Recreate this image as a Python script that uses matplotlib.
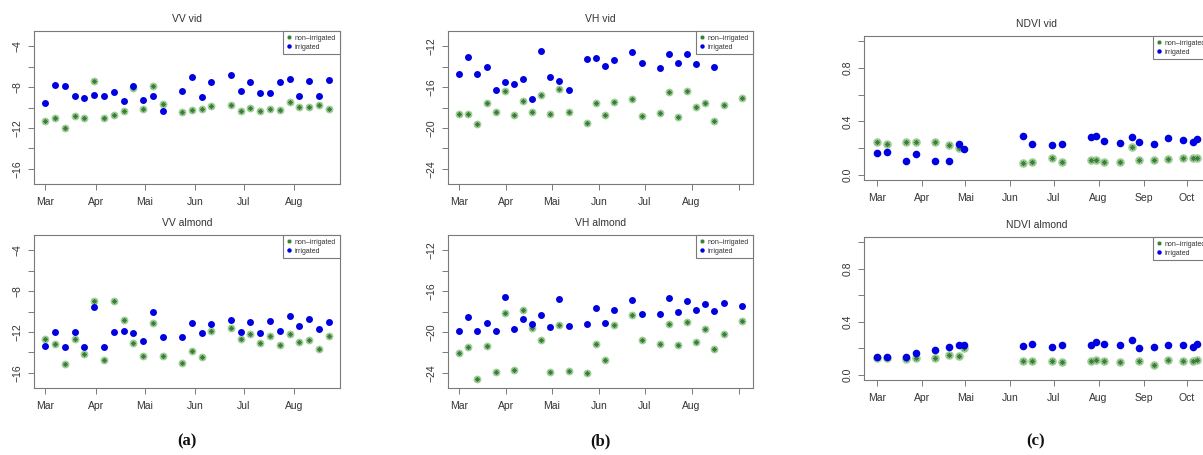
import numpy as np
import matplotlib
matplotlib.use('Agg')
from matplotlib import pyplot as plt
from matplotlib.lines import Line2D

plt.rcParams['font.family'] = ['Liberation Sans', 'DejaVu Sans']

# acquisition days counted from 1 March
vv_days = [0, 6, 12, 18, 24, 30, 36, 42, 48, 54, 60, 66, 72,
           84, 90, 96, 102, 114, 120, 126, 132, 138, 144, 150, 156, 162, 168, 174]
vh_days = [0, 6, 12, 18, 24, 30, 36, 42, 48, 54, 60, 66, 72,
           84, 90, 96, 102, 114, 120, 132, 138, 144, 150, 156, 162, 168, 174, 186]
ndvi_days = [0, 7, 20, 27, 40, 50, 57, 60, 101, 107, 121, 128, 148, 151,
             157, 168, 176, 181, 191, 201, 211, 218, 221]

nan = np.nan

vv_vid_irr = [-9.58, -7.80, -7.86, -8.90, -9.03, -8.77, -8.90, -8.51, -9.38, -7.89, -9.25, -8.83, -10.32,
              -8.41, -7.05, -8.93, -7.54, -6.85, -8.41, -7.47, -8.54, -8.61, -7.47, -7.24, -8.90, -7.41, -8.90, -7.31]
vv_vid_non = [-11.33, -11.01, -12.01, -10.84, -11.01, -7.37, -11.07, -10.71, -10.39, -8.12, -10.13, -7.89, -9.61,
              -10.42, -10.20, -10.10, -9.84, -9.74, -10.32, -10.07, -10.39, -10.16, -10.29, -9.48, -9.97, -9.94, -9.77, -10.10]
vv_alm_irr = [-13.42, -12.03, -13.45, -12.03, -13.52, -9.52, -13.49, -12.03, -11.90, -12.13, -12.89, -10.02, -12.46,
              -12.53, -11.11, -12.07, -11.24, -10.81, -12.00, -11.01, -12.13, -10.94, -11.90, -10.45, -11.47, -10.71, -11.74, -11.01]
vv_alm_non = [-12.66, -13.16, -15.11, -12.69, -14.15, -8.93, -14.71, -8.93, -10.84, -13.12, -14.41, -11.17, -14.35,
              -15.04, -13.85, -14.45, -11.93, -11.60, -12.66, -12.17, -13.09, -12.40, -13.26, -12.20, -13.02, -12.76, -13.72, -12.36]

vh_vid_irr = [-14.75, -13.05, -14.68, -13.99, -16.25, -15.53, -15.69, -15.24, -17.13, -12.49, -15.04, -15.43, -16.25,
              -13.27, -13.14, -13.90, -13.37, -12.59, -13.63, -14.16, -12.72, -13.67, -12.72, -13.70, nan, -14.06, nan, nan]
vh_vid_non = [-18.67, -18.60, -19.58, -17.52, -18.47, -16.38, -18.73, -17.33, -18.41, -16.74, -18.60, -16.22, -18.47,
              -19.52, -17.52, -18.70, -17.42, -17.13, -18.86, -18.50, -16.48, -18.93, -16.38, -17.98, -17.52, -19.32, -17.72, -17.10]
vh_alm_irr = [-19.93, -18.55, -19.93, -19.14, -19.93, -16.60, -19.74, -18.71, -19.24, -18.38, -19.54, -16.76, -19.40,
              -19.21, -17.62, -19.14, -17.82, -16.86, -18.21, -18.21, -16.63, -18.05, -16.96, -17.85, -17.26, -17.92, -17.12, -17.45]
vh_alm_non = [-22.08, -21.52, -24.66, -21.42, -23.90, -18.15, -23.74, -17.88, -19.60, -20.83, -23.93, -19.37, -23.80,
              -24.00, -21.16, -22.78, -19.34, -18.31, -20.79, -21.16, -19.27, -21.32, -19.01, -20.99, -19.74, -21.72, -20.17, -18.94]

ndvi_vid_irr = [0.163, 0.173, 0.103, 0.158, 0.100, 0.100, 0.228, 0.193, 0.293, 0.230, 0.220, 0.230,
                0.280, 0.288, 0.253, 0.240, 0.283, 0.245, 0.228, 0.273, 0.263, 0.245, 0.268]
ndvi_vid_non = [0.243, 0.228, 0.248, 0.248, 0.248, 0.223, 0.203, nan, 0.088, 0.095, 0.128, 0.093,
                0.113, 0.113, 0.098, 0.098, 0.205, 0.113, 0.113, 0.115, 0.123, 0.123, 0.128]
ndvi_alm_irr = [0.133, 0.135, 0.130, 0.163, 0.188, 0.208, 0.228, 0.225, 0.220, 0.233, 0.213, 0.225,
                0.225, 0.245, 0.230, 0.223, 0.263, 0.203, 0.208, 0.223, 0.228, 0.210, 0.235]
ndvi_alm_non = [0.125, 0.125, 0.120, 0.123, 0.128, 0.150, 0.143, 0.205, 0.100, 0.100, 0.103, 0.095,
                0.100, 0.108, 0.100, 0.098, nan, 0.100, 0.075, 0.110, 0.103, 0.105, 0.110]

months = ['Mar', 'Apr', 'Mai', 'Jun', 'Jul', 'Aug', 'Sep', 'Oct']
month_starts = ['2017-03-01', '2017-04-01', '2017-05-01', '2017-06-01',
                '2017-07-01', '2017-08-01', '2017-09-01', '2017-10-01']

base = np.datetime64('2017-03-01')
GRAY = '#7a7a7a'
TXT = '#333333'
BLUE = '#0000e0'
HALO = '#9fcf96'
STAR = '#3f7d3f'


def to_dates(days):
    return base + np.array(days, dtype='timedelta64[D]')


def panel(rect, title, days, non, irr, xlim, ylim, yticks, ylabels, nmonths, mlabels, size=20):
    ax = fig.add_axes(rect)
    d = to_dates(days)
    ax.scatter(d, non, s=size * 1.6, color=HALO, lw=0, zorder=2)
    ax.scatter(d, non, s=size * 0.45, marker=(8, 2, 0), color=STAR, lw=0.6, zorder=3)
    ax.scatter(d, irr, s=size * 1.25, color=BLUE, lw=0, zorder=4)
    ax.set_xlim(base + np.timedelta64(int(xlim[0] * 24), 'h'), base + np.timedelta64(int(xlim[1] * 24), 'h'))
    ax.set_ylim(*ylim)
    ax.set_xticks(np.array(month_starts[:nmonths], dtype='datetime64[D]'))
    ax.set_xticklabels(mlabels)
    ax.set_yticks(yticks)
    ax.set_yticklabels(ylabels, rotation=90, va='center')
    ax.tick_params(axis='both', colors=GRAY, labelcolor=TXT, labelsize=7.5, length=4.5, width=0.7)
    ax.tick_params(axis='x', pad=5)
    ax.tick_params(axis='y', pad=4)
    for sp in ax.spines.values():
        sp.set_color(GRAY)
        sp.set_linewidth(0.8)
    ax.set_title(title, fontsize=7.5, color=TXT, pad=6.5)
    handles = [(Line2D([], [], ls='', marker='o', ms=3.5, color=HALO, mew=0),
                Line2D([], [], ls='', marker=(8, 2, 0), ms=2.3, color=STAR, mew=0.5)),
               Line2D([], [], ls='', marker='o', ms=3.2, color=BLUE, mew=0)]
    leg = ax.legend(handles, ['non\u2013irrigated', 'irrigated'], loc='upper right', borderaxespad=0,
                    fontsize=5, frameon=True, fancybox=False, edgecolor=GRAY, framealpha=1,
                    handlelength=0.6, handletextpad=0.6, borderpad=0.55, labelspacing=0.25)
    leg.get_frame().set_linewidth(0.8)
    for t in leg.get_texts():
        t.set_color(TXT)
    return ax


def mlab(n, shown):
    return [months[i] if i < shown else '' for i in range(n)]


fig = plt.figure(figsize=(12.03, 4.55), dpi=100)
W, H = 1203.0, 455.0

def rect(x0, y0, x1, y1):
    return [x0 / W, 1 - y1 / H, (x1 - x0) / W, (y1 - y0) / H]

m = '\u2212'
vv_ticks = [-4, -6, -8, -10, -12, -14, -16]
vv_labels = [m + '4', '', m + '8', '', m + '12', '', m + '16']
vh_ticks = [-12, -14, -16, -18, -20, -22, -24]
vh_labels = [m + '12', '', m + '16', '', m + '20', '', m + '24']
nd_ticks = [0.0, 0.2, 0.4, 0.6, 0.8, 1.0]
nd_labels = ['0.0', '', '0.4', '', '0.8', '']

panel(rect(34, 31, 340, 184), 'VV vid', vv_days, vv_vid_non, vv_vid_irr, (-7, 181), (-17.5, -2.5),
      vv_ticks, vv_labels, 6, mlab(6, 6))
panel(rect(34, 235, 340, 388), 'VV almond', vv_days, vv_alm_non, vv_alm_irr, (-7, 181), (-17.5, -2.5),
      vv_ticks, vv_labels, 6, mlab(6, 6))
panel(rect(448, 31, 753, 184), 'VH vid', vh_days, vh_vid_non, vh_vid_irr, (-7.4, 193.4), (-25.5, -10.5),
      vh_ticks, vh_labels, 7, mlab(7, 6))
panel(rect(448, 235, 753, 388), 'VH almond', vh_days, vh_alm_non, vh_alm_irr, (-7.4, 193.4), (-25.5, -10.5),
      vh_ticks, vh_labels, 7, mlab(7, 6))
panel(rect(864, 36, 1210, 180), 'NDVI vid', ndvi_days, ndvi_vid_non, ndvi_vid_irr, (-8.8, 229.8), (-0.04, 1.04),
      nd_ticks, nd_labels, 8, mlab(8, 8), size=24)
panel(rect(864, 237, 1210, 380), 'NDVI almond', ndvi_days, ndvi_alm_non, ndvi_alm_irr, (-8.8, 229.8), (-0.04, 1.04),
      nd_ticks, nd_labels, 8, mlab(8, 8), size=24)

for x, lab in [(187, '(a)'), (600, '(b)'), (1036, '(c)')]:
    fig.text(x / W, 1 - 441 / H, lab, ha='center', va='center', fontsize=12,
             fontweight='bold', family='Liberation Serif', color='#111111')

fig.savefig('out.png', dpi=100)
